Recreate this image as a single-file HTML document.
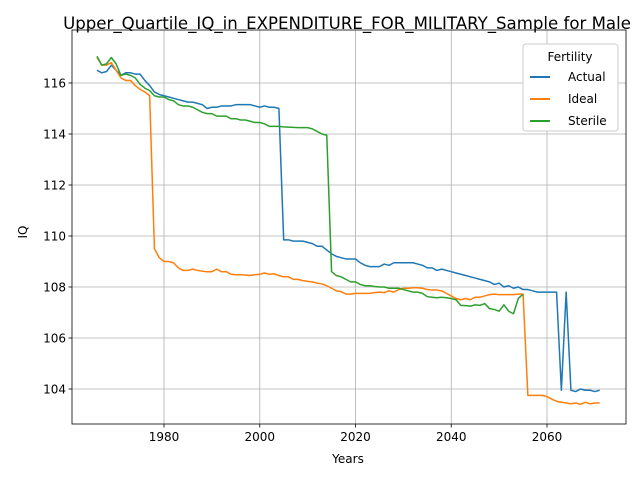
<!DOCTYPE html>
<html><head><meta charset="utf-8"><style>
body{margin:0;background:#fff;font-family:"Liberation Sans","DejaVu Sans",sans-serif;}
svg text{font-family:"DejaVu Sans","Liberation Sans",sans-serif;}
</style></head><body>
<svg id="chart" width="640" height="480" xmlns="http://www.w3.org/2000/svg">
<rect width="640" height="480" fill="#fff"/>
<text x="347" y="29" font-size="16.6" text-anchor="middle">Upper_Quartile_IQ_in_EXPENDITURE_FOR_MILITARY_Sample for Male</text>
<g id="grid"></g><g id="series"></g><g id="axes"></g>
<text x="348" y="463" font-size="12" text-anchor="middle">Years</text>
<text x="27" y="232" font-size="12" text-anchor="middle" transform="rotate(-90 27 232)">IQ</text>
<g>
<rect x="523" y="44" width="95" height="87" rx="3" fill="#fff" stroke="#ccc"/>
<text x="570" y="61" font-size="12" text-anchor="middle">Fertility</text>
<line x1="530" y1="77" x2="550" y2="77" stroke="#1f77b4" stroke-width="2"/><text x="568" y="81" font-size="12">Actual</text>
<line x1="530" y1="99" x2="550" y2="99" stroke="#ff7f0e" stroke-width="2"/><text x="568" y="103" font-size="12">Ideal</text>
<line x1="530" y1="121" x2="550" y2="121" stroke="#2ca02c" stroke-width="2"/><text x="568" y="125" font-size="12">Sterile</text>
</g>
</svg>
<script>
const startYear=1966;
const xTicks=[1980,2000,2020,2040,2060];
const yTicks=[104,106,108,110,112,114,116];
const actual=[116.5,116.4,116.45,116.7,116.5,116.3,116.4,116.4,116.35,116.35,116.1,115.9,115.65,115.55,115.5,115.45,115.4,115.35,115.3,115.25,115.25,115.2,115.15,115.0,115.05,115.05,115.1,115.1,115.1,115.15,115.15,115.15,115.15,115.1,115.05,115.1,115.05,115.05,115.0,109.85,109.85,109.8,109.8,109.8,109.75,109.7,109.6,109.6,109.45,109.3,109.2,109.15,109.1,109.1,109.1,108.95,108.85,108.8,108.8,108.8,108.9,108.85,108.95,108.95,108.95,108.95,108.95,108.9,108.85,108.75,108.75,108.65,108.7,108.65,108.6,108.55,108.5,108.45,108.4,108.35,108.3,108.25,108.2,108.1,108.15,108.0,108.05,107.95,108.0,107.9,107.9,107.85,107.8,107.8,107.8,107.8,107.8,103.95,107.8,103.95,103.9,104.0,103.95,103.95,103.9,103.95];
const ideal=[117.0,116.7,116.7,116.8,116.5,116.2,116.1,116.1,115.9,115.75,115.65,115.5,109.5,109.15,109.0,109.0,108.95,108.75,108.65,108.65,108.7,108.65,108.62,108.6,108.6,108.7,108.6,108.6,108.5,108.48,108.48,108.47,108.45,108.48,108.5,108.55,108.5,108.52,108.45,108.4,108.4,108.3,108.3,108.25,108.22,108.2,108.15,108.12,108.05,107.95,107.85,107.82,107.72,107.72,107.75,107.75,107.75,107.75,107.78,107.8,107.78,107.85,107.8,107.9,107.95,107.95,107.97,107.97,107.95,107.9,107.88,107.88,107.85,107.75,107.65,107.55,107.5,107.55,107.5,107.6,107.6,107.65,107.7,107.72,107.7,107.7,107.7,107.7,107.72,107.72,103.75,103.75,103.75,103.75,103.7,103.6,103.52,103.48,103.45,103.42,103.45,103.4,103.48,103.42,103.45,103.45];
const sterile=[117.05,116.7,116.75,117.0,116.75,116.3,116.35,116.3,116.2,115.95,115.8,115.7,115.5,115.45,115.45,115.35,115.3,115.15,115.1,115.1,115.05,114.95,114.85,114.8,114.8,114.7,114.7,114.7,114.6,114.6,114.55,114.55,114.5,114.45,114.45,114.4,114.3,114.3,114.3,114.28,114.27,114.26,114.25,114.25,114.25,114.2,114.1,114.0,113.95,108.6,108.45,108.4,108.3,108.2,108.2,108.1,108.05,108.05,108.02,108.0,108.0,107.95,107.95,107.95,107.9,107.85,107.8,107.8,107.75,107.62,107.6,107.58,107.6,107.58,107.55,107.5,107.28,107.27,107.25,107.3,107.28,107.35,107.15,107.12,107.05,107.3,107.05,106.95,107.55,107.72];
const L=72,R=626,T=30,B=424;
const X=y=>164+(y-1980)*4.7875;
const Y=v=>389-(v-104)*25.5;
const NS="http://www.w3.org/2000/svg";
function mk(tag,attrs,parent){const e=document.createElementNS(NS,tag);for(const k in attrs)e.setAttribute(k,attrs[k]);parent.appendChild(e);return e;}
const grid=document.getElementById('grid'),axes=document.getElementById('axes'),ser=document.getElementById('series');
xTicks.forEach(t=>{const x=X(t);
 const g=mk('line',{x1:x,x2:x,y1:T,y2:B,stroke:'#b0b0b0','stroke-width':0.8},grid);
 
 
 mk('line',{x1:x,x2:x,y1:B,y2:B+3.5,stroke:'#000','stroke-width':0.8},axes);
 const tx=mk('text',{x:x,y:B+17,'font-size':12,'text-anchor':'middle'},axes);tx.textContent=t;
 
 });
yTicks.forEach(t=>{const y=Y(t);
 const g=mk('line',{x1:L,x2:R,y1:y,y2:y,stroke:'#b0b0b0','stroke-width':0.8},grid);
 
 
 mk('line',{x1:L-3.5,x2:L,y1:y,y2:y,stroke:'#000','stroke-width':0.8},axes);
 const tx=mk('text',{x:L-6,y:y+4.5,'font-size':12,'text-anchor':'end'},axes);tx.textContent=t;
 
 });
const frame=mk('rect',{x:L,y:T,width:R-L,height:B-T,fill:'none',stroke:'#000','stroke-width':0.8},axes);


[[actual,'#1f77b4','actual-line'],[ideal,'#ff7f0e','ideal-line'],[sterile,'#2ca02c','sterile-line']].forEach(([d,c,n])=>{
 const p=mk('polyline',{points:d.map((v,i)=>X(startYear+i)+','+Y(v)).join(' '),fill:'none',stroke:c,'stroke-width':1.5,'stroke-linejoin':'round'},ser);
 
 
});
</script>
</body></html>
